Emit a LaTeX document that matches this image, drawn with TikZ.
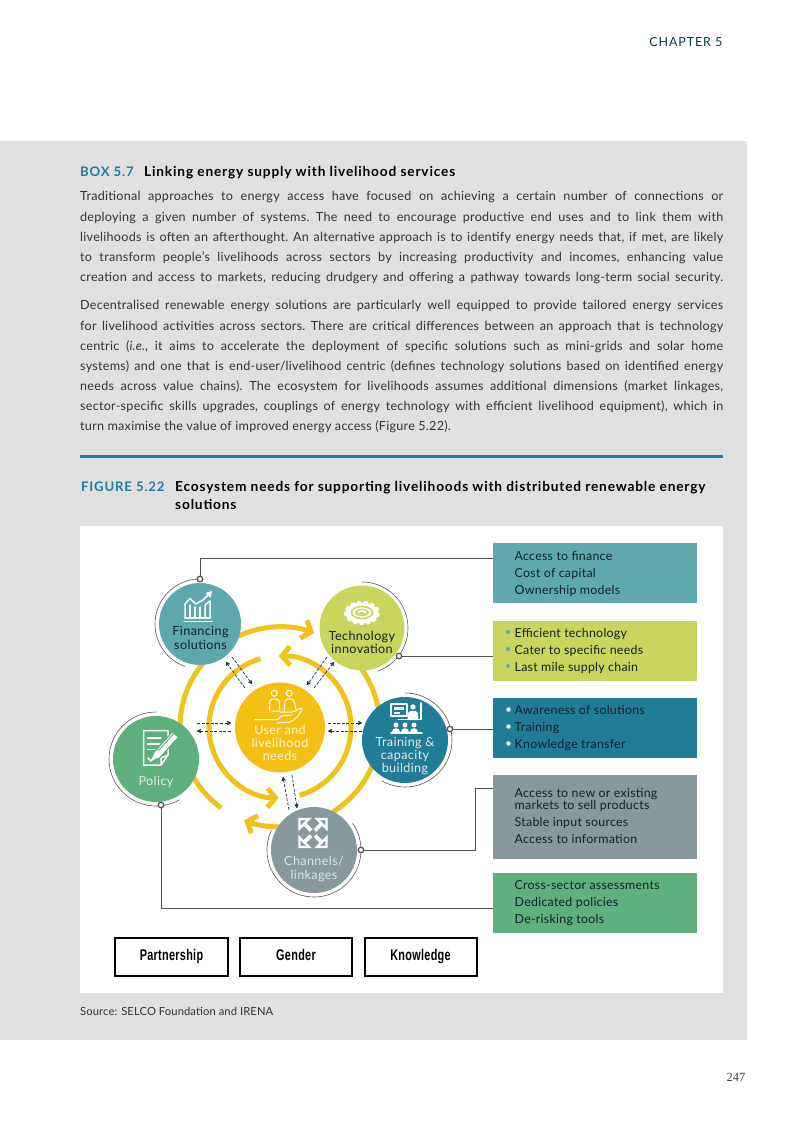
\documentclass[tikz,border=0pt]{standalone}
\usepackage{fontspec}
\setmainfont{Lato}
\newfontfamily\serifnum{Liberation Serif}
\newfontfamily\condfont[FakeStretch=0.7,LetterSpace=2]{Liberation Sans}
\usetikzlibrary{arrows.meta}
\definecolor{panelgray}{HTML}{E0E0E0}
\definecolor{irblue}{HTML}{1F7BA8}
\definecolor{fincol}{HTML}{5FA8AE}
\definecolor{techcol}{HTML}{C9D55D}
\definecolor{traincol}{HTML}{217C97}
\definecolor{chancol}{HTML}{88999D}
\definecolor{polcol}{HTML}{60B07E}
\definecolor{usercol}{HTML}{F3BF12}
\definecolor{ringcol}{HTML}{F1C21B}
\definecolor{navy}{HTML}{14305C}
\definecolor{bodyink}{HTML}{333333}
\definecolor{lineink}{HTML}{555555}
\definecolor{boxink}{HTML}{10222A}
\newcommand{\jl}[1]{\makebox[643pt][s]{#1}}
\newcommand{\ringarc}[4][]{\draw[ringline,#1] ([shift={(#3:#2)}]U) arc[start angle=#3,end angle=#4,radius=#2];}
\newcommand{\thinarc}[4]{\draw[thinring] ([shift={(#2:#4)}]#1) arc[start angle=#2,end angle=#3,radius=#4];}
\tikzset{
  ringline/.style={draw=ringcol,line width=5pt},
  ringarrow/.style={-{Straight Barb[length=8pt,width=19pt]}},
  thinring/.style={draw=lineink,line width=0.6pt},
  hub/.style={circle,minimum size=#1,inner sep=0pt,draw=none},
  dot/.style={circle,draw=lineink,fill=white,line width=1.3pt,minimum size=5.5pt,inner sep=0pt},
  link/.style={draw=lineink,line width=0.8pt},
  dart/.style={draw=navy,line width=0.7pt,dash pattern=on 3pt off 1.6pt,-{Stealth[length=5pt,width=5pt,round]}},
  ctext/.style={align=center,inner sep=0pt,font=\fontsize{12.6}{13.4}\selectfont\addfontfeature{LetterSpace=3}},
  bodytext/.style={anchor=north west,inner sep=0pt,align=left,text=bodyink,font=\fontsize{12.6}{20.1}\selectfont\frenchspacing\addfontfeature{LetterSpace=2}},
  infobox/.style={rectangle,anchor=north west,inner sep=0pt,minimum width=204pt,minimum height=#1},
  infotext/.style={anchor=north west,inner sep=0pt,align=left,text=boxink,font=\fontsize{12.4}{17}\selectfont\addfontfeature{LetterSpace=2}},
  tagbox/.style={rectangle,draw=black,line width=2pt,fill=white,minimum height=38pt,inner sep=0pt,text height=11.5pt,text depth=3.5pt,font=\condfont\bfseries\fontsize{15.5}{18}\selectfont},
  headbold/.style={anchor=base west,inner sep=0pt,font=\fontsize{13.2}{14}\selectfont\bfseries\addfontfeature{LetterSpace=6}},
  titlebold/.style={inner sep=0pt,text=black,align=left,font=\fontsize{13.7}{18}\selectfont\bfseries\addfontfeature{LetterSpace=6}},
  iconline/.style={draw=white,line width=1.5pt,line join=round,line cap=round},
  iconthin/.style={draw=white,line width=1pt,line join=round,line cap=round},
}
\begin{document}
\begin{tikzpicture}[x=1pt,y=-1pt]
\useasboundingbox (0,0) rectangle (803,1134);
\fill[white] (0,0) rectangle (803,1134);
\fill[panelgray] (0,141) rectangle (747,1040);
\fill[white] (80,526) rectangle (723,993);
\fill[irblue] (80,455) rectangle (723,458);
%
\node[anchor=base east,inner sep=0pt,text=black!55!irblue,font=\fontsize{12.5}{14}\selectfont\addfontfeature{LetterSpace=7}] (chapter) at (722.5,47) {CHAPTER 5};
\node[headbold,text=irblue] (boxlabel) at (80,177) {BOX 5.7};
\node[titlebold,anchor=base west] (boxtitle) at (144,177) {Linking energy supply with livelihood services};
\node[bodytext] (para1) at (80,191.5) {%
\jl{Traditional approaches to energy access have focused on achieving a certain number of connections or}\\
\jl{deploying a given number of systems. The need to encourage productive end uses and to link them with}\\
\jl{livelihoods is often an afterthought. An alternative approach is to identify energy needs that, if met, are likely}\\
\jl{to transform people's livelihoods across sectors by increasing productivity and incomes, enhancing value}\\
\jl{creation and access to markets, reducing drudgery and offering a pathway towards long-term social security.}};
\node[bodytext] (para2) at (80,300.5) {%
\jl{Decentralised renewable energy solutions are particularly well equipped to provide tailored energy services}\\
\jl{for livelihood activities across sectors. There are critical differences between an approach that is technology}\\
\jl{centric (\textit{i.e.}, it aims to accelerate the deployment of specific solutions such as mini-grids and solar home}\\
\jl{systems) and one that is end-user/livelihood centric (defines technology solutions based on identified energy}\\
\jl{needs across value chains). The ecosystem for livelihoods assumes additional dimensions (market linkages,}\\
\jl{sector-specific skills upgrades, couplings of energy technology with efficient livelihood equipment), which in}\\
turn maximise the value of improved energy access (Figure 5.22).};
\node[headbold,text=irblue] (figlabel) at (81,491) {FIGURE 5.22};
\node[titlebold,anchor=north west] (figtitle) at (175,481) {Ecosystem needs for supporting livelihoods with distributed renewable energy\\solutions};
\node[anchor=base west,inner sep=0pt,text=bodyink,font=\fontsize{11.2}{13}\selectfont\addfontfeature{LetterSpace=1}] (source) at (80,1015) {Source: SELCO Foundation and IRENA};
\node[anchor=base,inner sep=0pt,font=\serifnum\fontsize{12.5}{14}\selectfont,text=black!75] (pageno) at (736,1081) {247};
%
% rings
\coordinate (U) at (280,727);
\begin{scope}[y=1pt]
\ringarc[ringarrow]{100}{115}{70}
\ringarc{100}{40}{-58}
\ringarc[ringarrow]{100}{270}{249}
\ringarc{100}{205}{234}
\ringarc{100}{185}{140}
\ringarc[ringarrow]{71}{106}{269}
\ringarc[ringarrow]{71}{286}{451}
\end{scope}
%
% hubs
\node[hub=82pt,fill=fincol] (fin) at (200,624) {};
\node[hub=85pt,fill=techcol] (tech) at (362,628) {};
\node[hub=86pt,fill=polcol] (pol) at (156,759) {};
\node[hub=86pt,fill=traincol] (train) at (405,740) {};
\node[hub=86pt,fill=chancol] (chan) at (314,850) {};
\node[hub=90pt,fill=usercol] (user) at (280,727.5) {};
%
\begin{scope}[y=1pt]
\thinarc{fin.center}{90}{251}{45}
\thinarc{tech.center}{90}{-70}{46}
\thinarc{pol.center}{90}{300}{47}
\thinarc{train.center}{90}{-120}{47}
\thinarc{chan.center}{35}{-205}{47}
\end{scope}
%
% dashed double arrows
\coordinate (fa1) at (232,657); \coordinate (fa2) at (252,684);
\coordinate (fb1) at (245,688); \coordinate (fb2) at (226,662);
\coordinate (ta1) at (327,657); \coordinate (ta2) at (307,685);
\coordinate (tb1) at (314,688); \coordinate (tb2) at (334,662);
\coordinate (pa1) at (197,723); \coordinate (pa2) at (231,723);
\coordinate (pb1) at (231,731); \coordinate (pb2) at (197,731);
\coordinate (ra1) at (328,723); \coordinate (ra2) at (362,723);
\coordinate (rb1) at (362,731); \coordinate (rb2) at (328,731);
\coordinate (ca1) at (289,810); \coordinate (ca2) at (283,777);
\coordinate (cb1) at (292,775); \coordinate (cb2) at (297,808);
\foreach \k in {f,t,p,r,c}{
  \draw[dart] (\k a1) -- (\k a2);
  \draw[dart] (\k b1) -- (\k b2);
}
%
% hub labels
\node[ctext,text=boxink] (lfin) at (200.5,638) {Financing\\solutions};
\node[ctext,text=boxink] (ltech) at (362,642.5) {Technology\\innovation};
\node[ctext,text=white!85!usercol] (luser) at (280,743) {User and\\livelihood\\needs};
\node[ctext,text=white!85!traincol] (ltrain) at (405,756) {Training \&\\capacity\\building};
\node[ctext,text=white!80!polcol] (lpol) at (156,782) {Policy};
\node[ctext,text=white!75!chancol] (lchan) at (314,869) {Channels/\\linkages};
%
% info boxes
\node[infobox=60pt,fill=fincol] (bfin) at (493,543) {};
\node[infobox=60pt,fill=techcol] (btech) at (493,621) {};
\node[infobox=60pt,fill=traincol] (btrain) at (493,698) {};
\node[infobox=84pt,fill=chancol] (bchan) at (493,775) {};
\node[infobox=60pt,fill=polcol] (bpol) at (493,873) {};
\node[infotext] (tfin) at (514.5,551.5) {Access to finance\\Cost of capital\\Ownership models};
\node[infotext] (ttech) at (514.5,628) {Efficient technology\\Cater to specific needs\\Last mile supply chain};
\node[infotext] (ttrain) at (514.5,705.5) {Awareness of solutions\\Training\\Knowledge transfer};
\node[infotext] (tchan) at (514.5,788) {Access to new or existing\\[-4.5pt]markets to sell products\\Stable input sources\\Access to information};
\node[infotext] (tpol) at (514.5,880.5) {Cross-sector assessments\\Dedicated policies\\De-risking tools};
\foreach \yy in {632,649,666}{\fill[fincol] (508,\yy) circle[radius=2];}
\foreach \yy in {709.5,726.5,743.5}{\fill[white] (508.5,\yy) circle[radius=2.2];}
%
% connector dots and leaders
\node[dot] (dfin) at (200,579) {};
\node[dot] (dtech) at (399,656) {};
\node[dot] (dtrain) at (450,729) {};
\node[dot] (dchan) at (361,850) {};
\node[dot] (dpol) at (161,805) {};
\coordinate (jfin) at (493,558);
\coordinate (jchan) at (493,788);
\coordinate (jchanb) at (475,850);
\coordinate (jpol) at (493,908);
\draw[link] (dfin) |- (jfin);
\draw[link] (dtech) -- (dtech -| bfin.west);
\draw[link] (dtrain) -- (dtrain -| bfin.west);
\draw[link] (dchan) -- (jchanb) |- (jchan);
\draw[link] (dpol) |- (jpol);
%
% tags
\node[tagbox,minimum width=113pt] (partner) at (171.5,956.5) {Partnership};
\node[tagbox,minimum width=112pt] (gender) at (296,956.5) {Gender};
\node[tagbox,minimum width=112pt] (know) at (420.5,956.5) {Knowledge};
%
% --- icons ---
% financing
\draw[iconline] (184,621.5) -- (212,621.5);
\draw[iconline] (185,618) -- (185,604) -- (190,598.5) -- (196,604) -- (203,600) -- (209,594);
\fill[white] (212,591) -- (205.5,593) -- (210.5,598) -- cycle;
\draw[iconline] (190,618) -- (190,605);
\draw[iconline] (185,618) -- (210,618);
\draw[iconline] (195,618) -- (195,607) (200,618) -- (200,607);
\draw[iconline] (205,618) -- (205,605) -- (210,601) -- (210,618);
% technology
\fill[white] (362,613) ellipse[x radius=16.5,y radius=10.5];
\draw[white,line width=3pt,dash pattern=on 4pt off 2.6pt] (362,613) ellipse[x radius=16.5,y radius=10.5];
\fill[techcol] (362,612.5) ellipse[x radius=11.5,y radius=6.8];
\fill[white] (362,612.5) ellipse[x radius=9.5,y radius=5.2];
\fill[techcol] (362,612.5) ellipse[x radius=7,y radius=3.6];
\fill[white] (362,612) ellipse[x radius=4.5,y radius=1.8];
\fill[techcol] (362,613) ellipse[x radius=2.5,y radius=1];
% user
\draw[iconthin] (274.3,693.3) circle[radius=3] (289.3,693.3) circle[radius=3];
\draw[iconthin] (269.5,711) -- (270,701) .. controls (270,698) and (278,698) .. (279,701) -- (280,711) -- (272,711);
\draw[iconthin] (284,712) -- (285,701) .. controls (286,698) and (293,698) .. (294,701) -- (296,709);
\draw[iconthin] (255,719.5) -- (278,719.5) -- (281,716) -- (292,715);
\draw[iconthin] (277,723) -- (290,722) .. controls (295,720) and (301,714) .. (302,708) .. controls (299,708) and (296,711) .. (292,712) -- (280,712);
% policy
\draw[iconline] (161,765) -- (143.5,765) -- (143.5,730.5) -- (168,730.5) -- (168,755) -- (161,765) -- (161,758) -- (168,755);
\draw[iconline] (147.5,738) -- (161,738) (147.5,744) -- (160,744) (147.5,749.5) -- (155,749.5);
\draw[iconline] (148,758) -- (151,761) -- (157,752);
\draw[polcol,line width=9pt] (155,757) -- (175,735);
\draw[white,line width=6.5pt] (156,756) -- (175,735);
\fill[white] (151.5,761) -- (155,752) -- (159,757) -- cycle;
\draw[polcol,line width=0.9pt] (158,751) -- (174,733.5);
% training
\draw[iconline] (391,704) -- (407,704) -- (407,716) -- (391,716) -- cycle;
\fill[white] (394,707) rectangle (404,710);
\fill[white] (394,712) rectangle (400,714);
\fill[white] (413,707) circle[radius=2.7];
\fill[white] (407.5,720) -- (408,713) .. controls (409,710) and (417,710) .. (418,713) -- (418.5,720) -- cycle;
\draw[iconline] (398,719.5) -- (421,719.5) -- (421,703);
\foreach \xx in {396,405,414}{
  \fill[white] (\xx,725) circle[radius=2.5];
  \fill[white] (\xx-4,732) .. controls (\xx-4,727) and (\xx+4,727) .. (\xx+4,732) -- cycle;
}
\draw[iconline] (391,733) -- (422,733);
% channels
\foreach \sx/\sy in {-1/-1,1/-1,-1/1,1/1}{
  \draw[white,line width=2.4pt,line join=miter] (313+13.5*\sx,833+14*\sy) -- (313+4*\sx,833+14*\sy) -- (313+13.5*\sx,833+4.5*\sy) -- cycle;
  \draw[white,line width=3.6pt] (313+9.5*\sx,833+10*\sy) -- (313+2*\sx,833+2.5*\sy);
}
\end{tikzpicture}
\end{document}
